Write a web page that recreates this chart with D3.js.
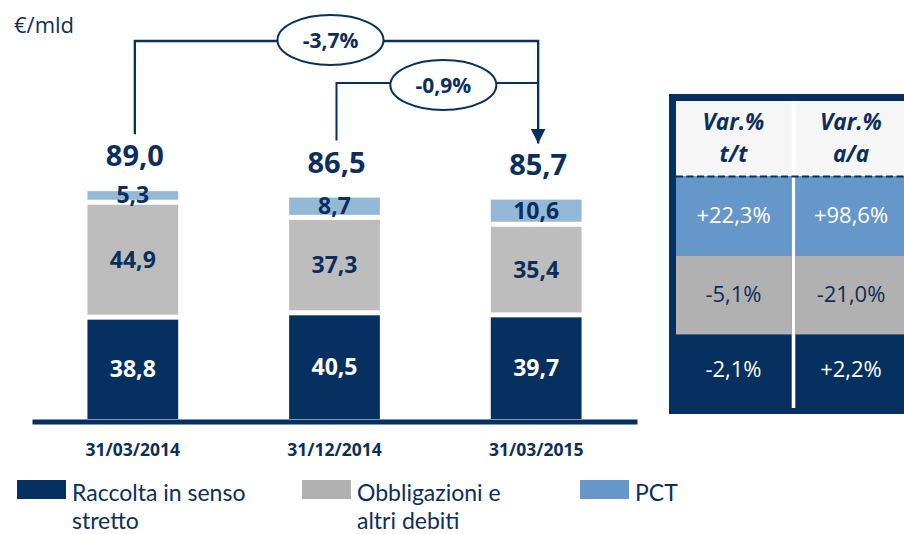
<!DOCTYPE html>
<html>
<head>
<meta charset="utf-8">
<script src="https://cdn.jsdelivr.net/npm/d3@7"></script>
<style>
  body{margin:0;background:#fff;}
  svg{font-family:"Open Sans","Noto Sans",sans-serif;}
</style>
</head>
<body>
<svg id="chart" width="904" height="534"></svg>
<script>
// dati
var categorie = ["31/03/2014", "31/12/2014", "31/03/2015"];
var raccolta = [38.8, 40.5, 39.7];
var obbligazioni = [44.9, 37.3, 35.4];
var pct = [5.3, 8.7, 10.6];
var totali = [89.0, 86.5, 85.7];
var variazioni = ["-3,7%", "-0,9%"];
var serieNomi = [["Raccolta in senso", "stretto"], ["Obbligazioni e", "altri debiti"], ["PCT"]];
var intestazioni = [["Var.%", "t/t"], ["Var.%", "a/a"]];
var varTT = ["+22,3%", "-5,1%", "-2,1%"];
var varAA = ["+98,6%", "-21,0%", "+2,2%"];

var navy = "#05305f",
    testo = "#0c2e5c",
    grigioBar = "#bdbdbd",
    azzurroBar = "#93b9d7",
    grigioTab = "#b1b1b1",
    azzurroTab = "#6697cb";

var it = d3.formatLocale({decimal: ",", thousands: ".", grouping: [3], currency: ["€", ""]});
var fmt = it.format(".1f");

var svg = d3.select("#chart");

var x = d3.scaleBand()
    .domain(categorie)
    .range([32, 637])
    .paddingInner(0.55)
    .paddingOuter(0.275);

var y = d3.scaleLinear()
    .domain([0, 100])
    .range([419, 163]);

// stack
var righe = categorie.map(function(c, i) {
  return {cat: c, raccolta: raccolta[i], obbligazioni: obbligazioni[i], pct: pct[i]};
});
var chiavi = ["raccolta", "obbligazioni", "pct"];
var serie = d3.stack().keys(chiavi)(righe);
var coloriBar = d3.scaleOrdinal().domain(chiavi).range([navy, grigioBar, azzurroBar]);
var coloriLabel = d3.scaleOrdinal().domain(chiavi).range(["#fff", testo, testo]);
var gap = 5;

var gs = svg.selectAll("g.serie")
  .data(serie)
  .enter().append("g")
    .attr("class", "serie");

gs.selectAll("rect")
  .data(function(s, si) { return s.map(function(d) { return {d: d, si: si, key: s.key}; }); })
  .enter().append("rect")
    .attr("x", function(o) { return x(o.d.data.cat); })
    .attr("width", x.bandwidth())
    .attr("y", function(o) { return y(o.d[1]); })
    .attr("height", function(o) { return y(o.d[0]) - y(o.d[1]) - (o.si > 0 ? gap : 0); })
    .attr("fill", function(o) { return coloriBar(o.key); });

gs.selectAll("text")
  .data(function(s, si) { return s.map(function(d) { return {d: d, si: si, key: s.key}; }); })
  .enter().append("text")
    .attr("x", function(o) { return x(o.d.data.cat) + x.bandwidth() / 2; })
    .attr("y", function(o) {
      var bottom = y(o.d[0]) - (o.si > 0 ? gap : 0);
      return (bottom + y(o.d[1])) / 2 + 8;
    })
    .attr("text-anchor", "middle")
    .attr("font-size", 23)
    .attr("font-weight", "bold")
    .attr("fill", function(o) { return coloriLabel(o.key); })
    .text(function(o) { return fmt(o.d[1] - o.d[0]); });

// asse
var xAxis = d3.axisBottom(x).tickSize(0).tickSizeOuter(0);
var ax = svg.append("g")
    .attr("transform", "translate(0,421.5)")
    .call(xAxis);
ax.select(".domain").attr("stroke", navy).attr("stroke-width", 5);
ax.selectAll(".tick text")
    .attr("y", 34.5)
    .attr("dy", 0)
    .attr("font-family", "\"Open Sans\",sans-serif")
    .attr("font-size", 17.5)
    .attr("font-weight", "bold")
    .attr("fill", testo);

// totali
var cx = function(i) { return x(categorie[i]) + x.bandwidth() / 2 + 2; };
var yTot = function(i) { return y(totali[i]) - 25; };

svg.selectAll("text.totale")
  .data(totali)
  .enter().append("text")
    .attr("class", "totale")
    .attr("x", function(d, i) { return cx(i); })
    .attr("y", function(d, i) { return yTot(i); })
    .attr("text-anchor", "middle")
    .attr("font-size", 29)
    .attr("font-weight", "bold")
    .attr("fill", testo)
    .text(function(d) { return fmt(d); });

// frecce variazione
var defs = svg.append("defs");
defs.append("marker")
    .attr("id", "freccia")
    .attr("viewBox", "0 0 10 10")
    .attr("refX", 10).attr("refY", 5)
    .attr("markerWidth", 6.5).attr("markerHeight", 6.5)
    .attr("markerUnits", "strokeWidth")
    .attr("orient", "auto")
  .append("path")
    .attr("d", "M0,0L10,5L0,10z")
    .attr("fill", navy);

var livelli = [41, 83];
var xFine = cx(2);
svg.append("path")
    .attr("d", "M" + cx(0) + "," + (yTot(0) - 32) + "V" + livelli[0] + "H" + xFine + "V" + (yTot(2) - 31))
    .attr("fill", "none")
    .attr("stroke", navy)
    .attr("stroke-width", 2.3)
    .attr("marker-end", "url(#freccia)");
svg.append("path")
    .attr("d", "M" + cx(1) + "," + (yTot(1) - 32) + "V" + livelli[1] + "H" + xFine)
    .attr("fill", "none")
    .attr("stroke", navy)
    .attr("stroke-width", 2);

var ellissi = [
  {t: variazioni[0], x: (cx(0) + xFine) / 2 - 6, y: livelli[0] - 1},
  {t: variazioni[1], x: (cx(1) + xFine) / 2 + 6, y: livelli[1] + 2}
];
var ge = svg.selectAll("g.ell").data(ellissi).enter().append("g").attr("class", "ell");
ge.append("ellipse")
    .attr("cx", function(d) { return d.x; })
    .attr("cy", function(d) { return d.y; })
    .attr("rx", 53).attr("ry", 25)
    .attr("fill", "#fff")
    .attr("stroke", navy)
    .attr("stroke-width", 2);
ge.append("text")
    .attr("x", function(d) { return d.x; })
    .attr("y", function(d) { return d.y + 7.5; })
    .attr("text-anchor", "middle")
    .attr("font-size", 21)
    .attr("font-weight", "bold")
    .attr("fill", testo)
    .text(function(d) { return d.t; });

svg.append("text")
    .attr("x", 14).attr("y", 33)
    .attr("font-size", 22)
    .attr("fill", testo)
    .text("€/mld");

// legenda
var legX = [17, 302, 580];
var coloriLeg = [navy, grigioTab, azzurroTab];
var gl = svg.selectAll("g.leg").data(serieNomi).enter().append("g").attr("class", "leg");
gl.append("rect")
    .attr("x", function(d, i) { return legX[i]; })
    .attr("y", 480)
    .attr("width", 49).attr("height", 19)
    .attr("fill", function(d, i) { return coloriLeg[i]; });
gl.selectAll("text")
  .data(function(d, i) { return d.map(function(r) { return {r: r, i: i}; }); })
  .enter().append("text")
    .attr("font-family", "Lato,\"Open Sans\",sans-serif")
    .attr("font-size", 23)
    .attr("fill", testo)
    .attr("x", function(o) { return legX[o.i] + 55; })
    .attr("y", function(o, j) { return 501 + j * 28; })
    .text(function(o) { return o.r; });

// tabella variazioni
var tab = svg.append("g");
tab.append("rect")
    .attr("x", 669).attr("y", 94)
    .attr("width", 250).attr("height", 320)
    .attr("fill", navy);
tab.append("rect")
    .attr("x", 676).attr("y", 101)
    .attr("width", 240).attr("height", 75)
    .attr("fill", "#f6f6f6");

var colonne = d3.scaleBand().domain([0, 1]).range([676, 911]).paddingInner(0.03);
var file = d3.scaleBand().domain([0, 1, 2]).range([176, 414]);
var coloriRiga = [azzurroTab, grigioTab, navy];
var testoRiga = ["#fff", testo, "#fff"];

[varTT, varAA].forEach(function(col, c) {
  tab.selectAll(null)
    .data(col)
    .enter().append("rect")
      .attr("x", colonne(c))
      .attr("y", function(d, r) { return file(r); })
      .attr("width", colonne.bandwidth())
      .attr("height", file.bandwidth())
      .attr("fill", function(d, r) { return coloriRiga[r]; });
});

// separatore bianco tra le colonne
tab.append("rect")
    .attr("x", colonne(0) + colonne.bandwidth())
    .attr("y", 101)
    .attr("width", colonne(1) - colonne(0) - colonne.bandwidth())
    .attr("height", 307)
    .attr("fill", "#fff");

tab.append("line")
    .attr("x1", 676).attr("x2", 911)
    .attr("y1", 176.5).attr("y2", 176.5)
    .attr("stroke", navy)
    .attr("stroke-width", 2)
    .attr("stroke-dasharray", "7,3.5");

var colCentro = function(c) { return c == 0 ? 733.5 : 851; };

intestazioni.forEach(function(h, c) {
  tab.append("text")
      .attr("text-anchor", "middle")
      .attr("font-size", 22.5)
      .attr("font-weight", "bold")
      .attr("font-style", "italic")
      .attr("fill", testo)
    .selectAll("tspan")
    .data(h)
    .enter().append("tspan")
      .attr("x", colCentro(c))
      .attr("y", function(d, j) { return 130 + j * 32; })
      .text(function(d) { return d; });
});

[varTT, varAA].forEach(function(col, c) {
  tab.selectAll(null)
    .data(col)
    .enter().append("text")
      .attr("x", colCentro(c))
      .attr("y", function(d, r) { return file(r) + file.bandwidth() / 2 + (r == 2 ? 3 : 7); })
      .attr("text-anchor", "middle")
      .attr("font-size", 22)
      .attr("fill", function(d, r) { return testoRiga[r]; })
      .text(function(d) { return d; });
});
</script>
</body>
</html>
